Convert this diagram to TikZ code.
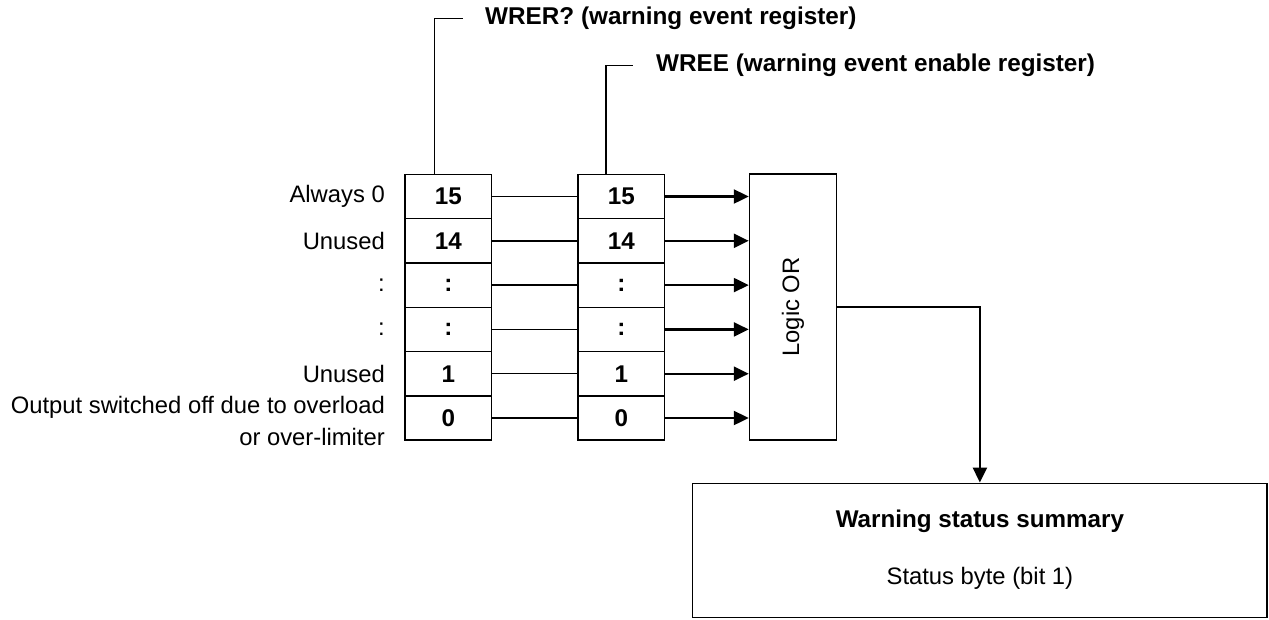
\documentclass[tikz,border=0pt]{standalone}
\usepackage{fontspec}
\setmainfont{Liberation Sans}
\usetikzlibrary{arrows.meta}
\begin{document}
\begin{tikzpicture}[x=1pt,y=-1pt,
  thinln/.style={line width=1.5pt},
  arrln/.style={line width=2.4pt,-{Triangle[length=15pt,width=14pt]}},
  cell/.style={draw, line width=1.5pt, minimum width=86.5pt, minimum height=44.3pt, inner sep=0pt,
    font=\fontsize{24.2}{28}\selectfont\bfseries},
  rowlbl/.style={anchor=east, align=right, inner sep=0pt, font=\fontsize{23.8}{31.5}\selectfont},
  toplbl/.style={anchor=west, inner sep=0pt, font=\fontsize{24.3}{28}\selectfont\bfseries},
  plainbox/.style={draw, line width=1.5pt, inner sep=0pt}
]
\useasboundingbox (0,0) rectangle (1269,619);

% registers
\foreach \t [count=\i from 0] in {15,14,:,:,1,0}{
  \node[cell] (a\i) at (448.3,{196.5+44.3*\i}) {\t};
  \node[cell] (b\i) at (621.3,{196.5+44.3*\i}) {\t};
}

% row labels
\node[rowlbl] (l0) at (385,196.5) {Always 0};
\node[rowlbl] (l1) at (385,240.8) {Unused};
\node[rowlbl] (l2) at (385,285.1) {:};
\node[rowlbl] (l3) at (385,329.5) {:};
\node[rowlbl] (l4) at (385,373.8) {Unused};
\node[rowlbl] (l5) at (385,420.8) {Output switched off due to overload\\or over-limiter};

% logic OR
\node[plainbox, minimum width=87pt, minimum height=266pt] (or) at (793,307)
  {\rotatebox{90}{\fontsize{23.8}{28}\selectfont Logic OR}};

% summary box
\node[plainbox, minimum width=574.5pt, minimum height=134.4pt] (sum) at (979.9,550.5) {};
\node[inner sep=0pt, font=\fontsize{24.2}{28}\selectfont\bfseries] (sumt) at (979.9,521) {Warning status summary};
\node[inner sep=0pt, font=\fontsize{23.8}{28}\selectfont] (sumb) at (979.9,578) {Status byte (bit 1)};

% connectors between registers and to OR
\foreach \i in {0,...,5}{
  \draw[thinln] (a\i.east) -- (b\i.west);
  \draw[arrln] (b\i.east) -- (or.west |- b\i.east);
}

% OR output
\coordinate (bend) at (sum.north |- or.east);
\draw[thinln] (or.east) -- (bend);
\draw[arrln] ([yshift=0.7pt]bend) -- (sum.north);

% top labels
\node[toplbl] (wrer) at (485,18.3) {WRER? (warning event register)};
\coordinate (w1) at (434.3,18.3);
\draw[thinln] (w1 |- a0.north) -- (w1) -- ([xshift=-22pt]wrer.west);

\node[toplbl] (wree) at (656,65.7) {WREE (warning event enable register)};
\coordinate (w2) at (606,65.7);
\draw[thinln] (w2 |- b0.north) -- (w2) -- ([xshift=-23pt]wree.west);
\end{tikzpicture}
\end{document}
